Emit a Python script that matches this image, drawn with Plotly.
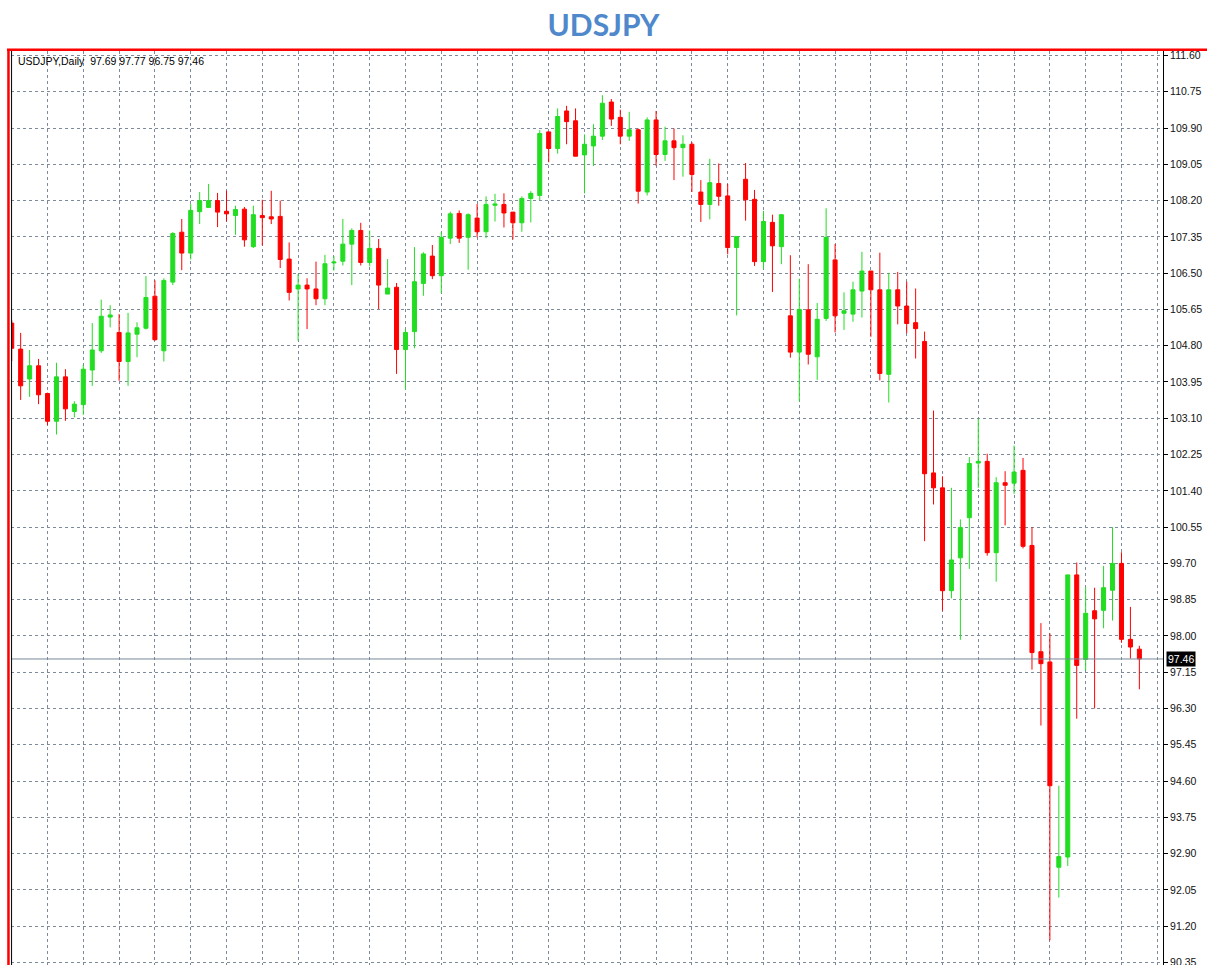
import plotly.graph_objects as go

# ---- data (daily USDJPY candles) ----
DAY = list(range(1, 128))

OPEN = [105.33, 104.72, 104.02, 104.33, 103.68, 103.03, 104.07, 103.26, 103.42, 104.23,
        104.68, 105.47, 105.11, 104.43, 105.07, 105.21, 105.96, 104.68, 106.29, 107.46,
        106.97, 107.94, 108.04, 108.20, 107.95, 107.85, 108.00, 107.12, 107.85, 107.82,
        107.83, 106.83, 106.13, 106.22, 106.13, 105.90, 106.74, 106.78, 107.18, 107.50,
        106.75, 107.08, 106.01, 106.17, 104.71, 105.13, 106.26, 106.90, 106.44, 107.32,
        107.90, 107.34, 107.79, 107.47, 108.09, 108.11, 107.93, 107.68, 108.25, 108.32,
        109.81, 109.42, 110.30, 110.07, 109.27, 109.48, 109.71, 110.51, 110.15, 109.71,
        109.86, 108.40, 110.09, 109.28, 109.60, 109.44, 109.52, 108.40, 108.11, 108.60,
        108.31, 107.10, 108.70, 108.23, 106.77, 107.69, 107.12, 105.50, 104.65, 105.64,
        104.54, 105.44, 106.81, 105.56, 105.54, 106.08, 106.55, 106.11, 104.13, 106.11,
        105.73, 105.34, 104.90, 101.82, 101.47, 99.06, 99.83, 100.77, 102.05, 102.09,
        99.95, 101.59, 101.58, 101.88, 100.12, 97.63, 97.39, 92.58, 92.82, 99.43,
        97.45, 98.59, 98.60, 99.07, 99.70, 97.92, 97.69]

HIGH = [105.40, 105.10, 104.70, 104.49, 103.70, 104.40, 104.25, 103.50, 104.35, 105.33,
        105.88, 105.75, 105.54, 105.57, 105.35, 106.43, 106.33, 106.38, 107.46, 107.77,
        108.12, 108.40, 108.59, 108.38, 108.43, 108.08, 108.05, 108.08, 108.22, 108.43,
        108.20, 107.22, 106.48, 106.38, 106.77, 106.93, 106.90, 107.77, 107.55, 107.68,
        107.50, 107.30, 106.83, 106.27, 105.19, 107.11, 106.99, 107.16, 107.47, 107.94,
        107.97, 107.90, 108.12, 108.30, 108.36, 108.37, 107.93, 108.30, 108.42, 109.85,
        109.81, 110.36, 110.42, 110.36, 109.75, 109.99, 110.67, 110.58, 110.33, 110.28,
        109.89, 110.15, 110.30, 109.93, 109.89, 109.73, 109.57, 108.68, 109.18, 109.07,
        108.59, 107.36, 109.08, 108.45, 107.96, 107.87, 107.87, 106.92, 106.37, 106.71,
        105.80, 108.02, 107.18, 106.05, 106.30, 107.00, 106.55, 106.98, 106.50, 106.53,
        106.30, 106.14, 105.13, 103.28, 101.74, 101.47, 100.73, 102.19, 103.09, 102.27,
        101.72, 101.86, 102.46, 102.17, 100.55, 98.30, 98.06, 94.49, 99.43, 99.72,
        99.14, 99.13, 99.64, 100.55, 99.96, 98.68, 97.77]

LOW = [104.44, 103.53, 103.60, 103.43, 102.94, 102.72, 103.04, 103.12, 103.18, 103.86,
       104.63, 105.23, 103.98, 103.86, 104.53, 105.18, 104.92, 104.43, 106.22, 106.57,
       106.82, 107.65, 108.04, 107.58, 107.71, 107.40, 107.12, 107.09, 107.15, 107.65,
       106.62, 105.86, 104.92, 105.19, 105.75, 105.75, 106.56, 106.68, 106.22, 106.68,
       106.66, 105.66, 106.01, 104.14, 103.77, 104.74, 105.97, 106.36, 106.03, 107.18,
       107.21, 106.58, 107.34, 107.32, 107.71, 107.57, 107.29, 107.47, 107.69, 108.21,
       109.10, 109.30, 109.52, 109.24, 108.37, 109.01, 109.62, 109.95, 109.52, 109.60,
       108.13, 108.32, 109.02, 109.13, 108.68, 108.76, 108.40, 107.70, 107.76, 108.08,
       106.94, 105.51, 107.73, 106.67, 106.59, 106.06, 106.71, 104.52, 103.50, 104.36,
       104.00, 105.38, 105.11, 105.17, 105.36, 105.46, 105.01, 103.99, 103.47, 105.30,
       105.09, 104.50, 100.22, 101.08, 98.59, 98.88, 97.91, 99.57, 101.47, 99.88,
       99.27, 100.59, 101.33, 100.05, 97.21, 95.90, 90.87, 91.87, 92.61, 96.06,
       97.19, 96.30, 98.18, 98.36, 97.84, 97.47, 96.75]

CLOSE = [104.74, 103.86, 104.33, 103.65, 103.03, 104.07, 103.32, 103.43, 104.25, 104.70,
         105.49, 105.52, 104.43, 105.10, 105.22, 105.93, 104.94, 106.33, 107.43, 106.97,
         107.97, 108.20, 108.20, 107.93, 107.89, 107.99, 107.28, 107.87, 107.80, 107.77,
         106.82, 106.05, 106.22, 106.13, 105.90, 106.72, 106.76, 107.18, 107.50, 106.75,
         107.08, 106.22, 106.15, 104.71, 105.11, 106.30, 106.95, 106.44, 107.34, 107.89,
         107.32, 107.87, 107.47, 108.11, 108.12, 107.91, 107.68, 108.25, 108.37, 109.77,
         109.42, 110.17, 110.05, 109.24, 109.52, 109.71, 110.48, 110.11, 109.71, 109.86,
         108.42, 110.09, 109.28, 109.60, 109.44, 109.52, 108.81, 108.11, 108.62, 108.30,
         107.10, 107.36, 108.22, 106.77, 107.71, 107.14, 107.87, 104.65, 105.65, 104.60,
         105.42, 107.34, 105.50, 105.62, 106.11, 106.55, 106.11, 104.15, 106.11, 105.73,
         105.32, 105.20, 101.80, 101.47, 99.06, 99.78, 100.54, 102.04, 102.09, 99.95,
         101.59, 101.53, 101.84, 100.10, 97.61, 97.35, 94.49, 92.83, 99.43, 97.31,
         98.53, 98.40, 99.13, 99.70, 97.92, 97.74, 97.46]

PRICE_TICKS = [90.35, 91.20, 92.05, 92.90, 93.75, 94.60, 95.45, 96.30, 97.15, 98.00,
               98.85, 99.70, 100.55, 101.40, 102.25, 103.10, 103.95, 104.80, 105.65,
               106.50, 107.35, 108.20, 109.05, 109.90, 110.75, 111.60]
PRICE_TICK_LABELS = [f"{v:.2f}" for v in PRICE_TICKS]
DAY_GRID = list(range(5, 130, 4))

BID = 97.46
HEADER = "USDJPY,Daily  97.69 97.77 96.75 97.46"
TITLE = "UDSJPY"

BULL = "#22dd22"
BEAR = "#ff0000"
GRID = "#7d8a9c"

fig = go.Figure(go.Candlestick(
    x=DAY, open=OPEN, high=HIGH, low=LOW, close=CLOSE,
    increasing=dict(line=dict(color=BULL, width=1), fillcolor=BULL),
    decreasing=dict(line=dict(color=BEAR, width=1), fillcolor=BEAR),
    whiskerwidth=0,
    showlegend=False,
    hoverinfo="skip",
))

fig.update_layout(
    width=1207, height=965,
    margin=dict(l=11, r=44, t=51, b=0, autoexpand=False),
    paper_bgcolor="white", plot_bgcolor="white",
    boxgap=0.55, boxgroupgap=0,
    title=dict(text=f"<b>{TITLE}</b>", x=0.5, xref="container", xanchor="center",
               y=1 - 25 / 965, yref="container", yanchor="middle",
               font=dict(family="Lato", size=30, color="#5088cc")),
    xaxis=dict(range=[0.92, 129.64], tickvals=DAY_GRID, showticklabels=False,
               ticks="", showgrid=True, gridcolor=GRID, gridwidth=1,
               griddash="3px,3px", zeroline=False, showline=False, automargin=False,
               rangeslider=dict(visible=False), fixedrange=True),
    yaxis=dict(range=[90.29, 111.705], side="right", tickvals=PRICE_TICKS,
               ticktext=PRICE_TICK_LABELS, ticks="outside", ticklen=4,
               tickcolor="black", showline=True, linecolor="black", linewidth=1,
               showgrid=True, gridcolor=GRID, gridwidth=1, griddash="3px,3px",
               zeroline=False, ticklabeloverflow="allow", automargin=False,
               tickfont=dict(family="Liberation Sans", size=10.5, color="#111111"),
               fixedrange=True),
    shapes=[
        # bid line
        dict(type="line", xref="paper", x0=0, x1=1, yref="y", y0=BID, y1=BID,
             line=dict(color="#778899", width=1), layer="above"),
        # left black frame line
        dict(type="line", xref="paper", x0=0.0005, x1=0.0005, yref="paper", y0=0, y1=1,
             line=dict(color="black", width=1), layer="above"),
        # red picture border (left and top)
        dict(type="line", xref="paper", x0=-0.0022, x1=-0.0022, yref="paper", y0=-0.01, y1=1.0015,
             line=dict(color="red", width=2.5), layer="above"),
        dict(type="line", xref="paper", x0=-0.0035, x1=1.04, yref="paper", y0=1.0015, y1=1.0015,
             line=dict(color="red", width=2.5), layer="above"),
    ],
    annotations=[
        dict(text=HEADER, xref="paper", yref="paper", x=0.0045, y=1, xanchor="left",
             yanchor="top", yshift=-2, showarrow=False,
             font=dict(family="Liberation Sans", size=10.5, color="black")),
        dict(text=f"{BID:.2f}", xref="paper", yref="y", x=1, y=BID, xanchor="left",
             yanchor="middle", xshift=3, showarrow=False, bgcolor="black",
             borderpad=1, font=dict(family="Liberation Sans", size=10.5, color="white")),
    ],
)

fig.write_html("out.html")
